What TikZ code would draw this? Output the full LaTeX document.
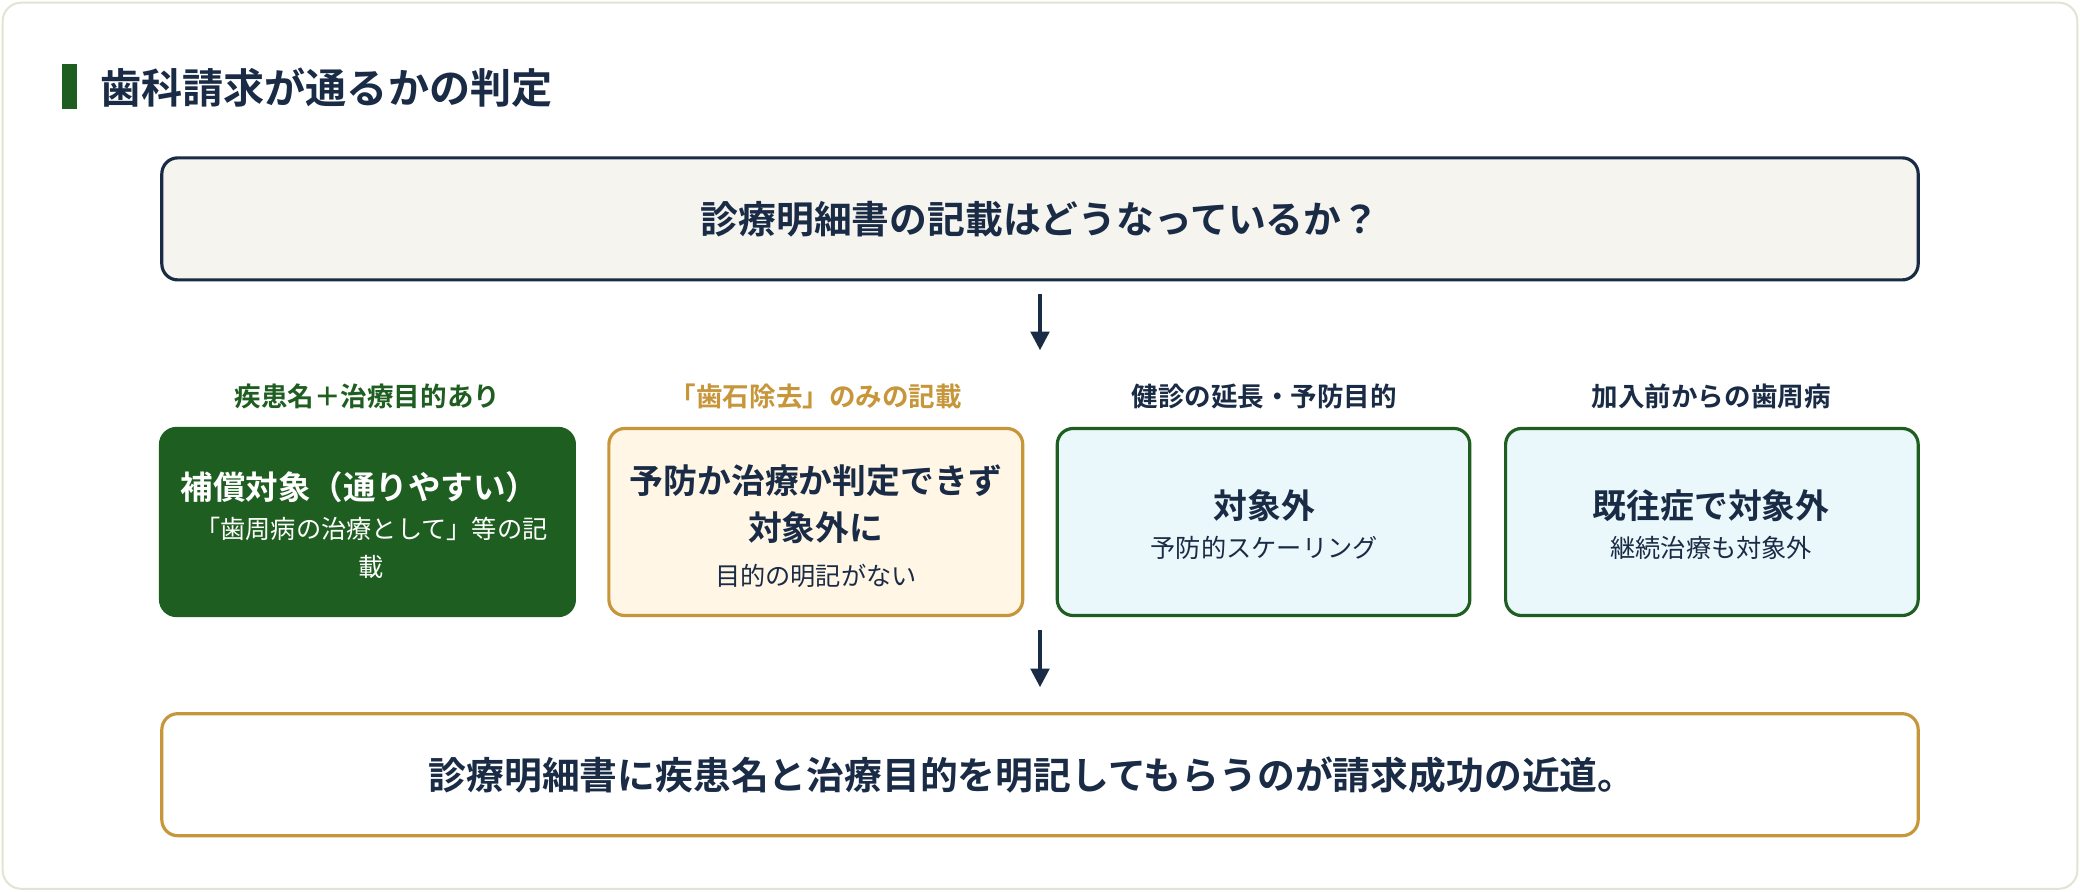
\documentclass[tikz,border=0pt]{standalone}
\usepackage{fontspec}
\usetikzlibrary{arrows.meta}
\setmainfont{Noto Sans CJK JP}[BoldFont={* Bold}]
\definecolor{navy}{HTML}{1A2B45}
\definecolor{dgreen}{HTML}{1E5E20}
\definecolor{gold}{HTML}{C8963A}
\definecolor{cream}{HTML}{F5F4EF}
\definecolor{pale}{HTML}{FFF6E6}
\definecolor{ice}{HTML}{EAF8FC}
\definecolor{frame}{HTML}{E4E2D2}
\begin{document}
\begin{tikzpicture}[x=1pt,y=-1pt,
  box/.style={draw, line width=2.4pt, rounded corners=12pt},
  lab/.style={font=\fontsize{20}{24}\selectfont\bfseries, anchor=center},
  arr/.style={-{Triangle[length=14pt,width=14pt]}, line width=2.6pt, navy}]
\useasboundingbox (0,0) rectangle (1568,672);
\draw[frame, line width=1.5pt, fill=white, rounded corners=14pt] (2,2) rectangle (1566,670);
\fill[dgreen] (47,48) rectangle (58,82);
\node[anchor=west, text=navy, font=\fontsize{31}{36}\selectfont\bfseries] (title) at (72,66) {歯科請求が通るかの判定};
\draw[box, navy, fill=cream] (122,119) rectangle (1446,211);
\node[text=navy, font=\fontsize{28.5}{34}\selectfont\bfseries] (q) at (784,165) {診療明細書の記載はどうなっているか？};
\coordinate (a1s) at (784,222); \coordinate (a1e) at (784,264);
\draw[arr] (a1s) -- (a1e);
\node[lab, text=dgreen] (l1) at (277,299) {疾患名＋治療目的あり};
\node[lab, text=gold] (l2) at (615,299) {「歯石除去」のみの記載};
\node[lab, text=navy] (l3) at (953,299) {健診の延長・予防目的};
\node[lab, text=navy] (l4) at (1290,299) {加入前からの歯周病};
\draw[box, dgreen, fill=dgreen] (121,323) rectangle (433,464);
\node[text=white, font=\fontsize{24.5}{28}\selectfont\bfseries] (b1) at (271,367) {補償対象（通りやすい）};
\node[text=white, align=center, font=\fontsize{19}{28}\selectfont] (b1s) at (280,413) {「歯周病の治療として」等の記\\載};
\draw[box, gold, fill=pale] (459,323) rectangle (771,464);
\node[text=navy, align=center, font=\fontsize{25.5}{36}\selectfont\bfseries] (b2) at (615,380) {予防か治療か判定できず\\対象外に};
\node[text=navy, font=\fontsize{19}{22}\selectfont] (b2s) at (615,434) {目的の明記がない};
\draw[box, dgreen, fill=ice] (797,323) rectangle (1108,464);
\node[text=navy, font=\fontsize{25.5}{28}\selectfont\bfseries] (b3) at (953,381) {対象外};
\node[text=navy, font=\fontsize{19}{22}\selectfont] (b3s) at (953,413) {予防的スケーリング};
\draw[box, dgreen, fill=ice] (1135,323) rectangle (1446,464);
\node[text=navy, font=\fontsize{25.5}{28}\selectfont\bfseries] (b4) at (1290,381) {既往症で対象外};
\node[text=navy, font=\fontsize{19}{22}\selectfont] (b4s) at (1290,413) {継続治療も対象外};
\coordinate (a2s) at (784,475); \coordinate (a2e) at (784,518);
\draw[arr] (a2s) -- (a2e);
\draw[box, gold, fill=white] (122,538) rectangle (1446,630);
\node[text=navy, font=\fontsize{28.5}{34}\selectfont\bfseries] (c) at (778,584) {診療明細書に疾患名と治療目的を明記してもらうのが請求成功の近道。};
\end{tikzpicture}
\end{document}
